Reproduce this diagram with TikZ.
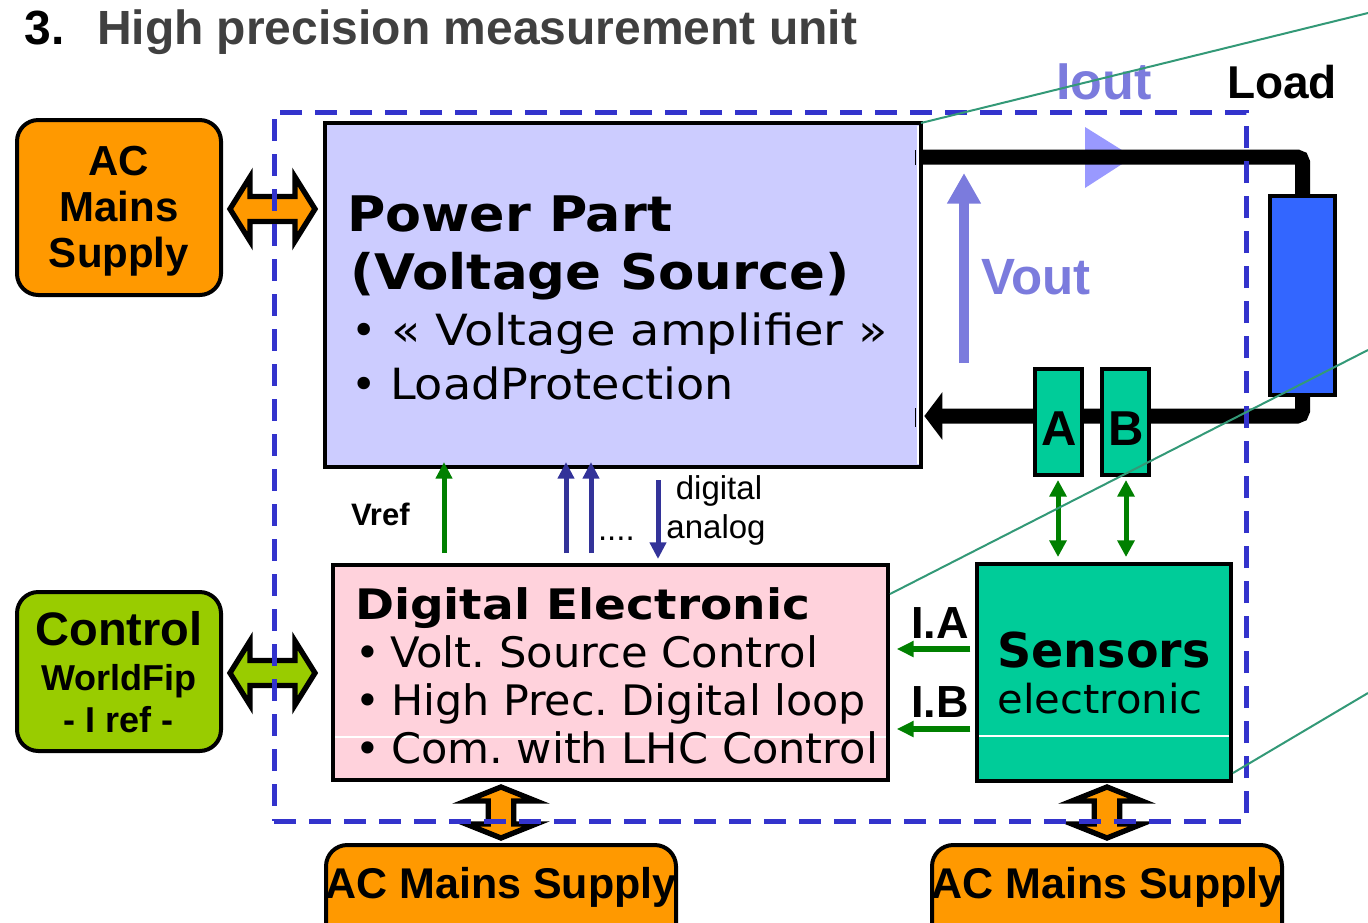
\documentclass[tikz,border=0pt]{standalone}
\usepackage{fontspec}
\usepackage{graphicx}
\setmainfont{Liberation Sans}
\newfontfamily\vfont{DejaVu Sans}
\usetikzlibrary{arrows.meta}
\frenchspacing
\definecolor{orng}{HTML}{FF9900}
\definecolor{lime}{HTML}{99CC00}
\definecolor{pwr}{HTML}{CCCCFF}
\definecolor{pinkde}{HTML}{FFD2DC}
\definecolor{teal}{HTML}{00CC99}
\definecolor{loadblue}{HTML}{3366FF}
\definecolor{dashblue}{HTML}{3333CC}
\definecolor{vblue}{HTML}{7B7BDD}
\definecolor{triblue}{HTML}{9999FF}
\definecolor{dgreen}{HTML}{008000}
\definecolor{sigblue}{HTML}{333399}
\definecolor{calloutgreen}{HTML}{339977}
\definecolor{titlegray}{HTML}{404040}
\newcommand{\fpx}[1]{\fontsize{\fpeval{0.75*#1}pt}{\fpeval{0.9*#1}pt}\selectfont}
\newcommand{\wl}[2]{\resizebox{\fpeval{0.75*#1}pt}{\height}{#2}}
\newcommand{\pbox}[6]{\node[#6, minimum width=\fpeval{0.75*(#4-#2)}pt, minimum height=\fpeval{0.75*(#5-#3)}pt] (#1) at ({(#2+#4)/2},{(#3+#5)/2}) {};}
\newcommand{\hdarrow}[4]{\draw[bigarr, fill=#4] (#1,#3) -- ({#1+20},{#3-32}) -- ({#1+20},{#3-12.5}) -- ({#2-20},{#3-12.5}) -- ({#2-20},{#3-32}) -- (#2,#3) -- ({#2-20},{#3+32}) -- ({#2-20},{#3+12.5}) -- ({#1+20},{#3+12.5}) -- ({#1+20},{#3+32}) -- cycle;}
\newcommand{\vdarrow}[4]{\draw[bigarr, fill=#4] (#1,#2) -- ({#1+35},{#2+14}) -- ({#1+12.8},{#2+14}) -- ({#1+12.8},{#3-14}) -- ({#1+35},{#3-14}) -- (#1,#3) -- ({#1-35},{#3-14}) -- ({#1-12.8},{#3-14}) -- ({#1-12.8},{#2+14}) -- ({#1-35},{#2+14}) -- cycle;}
\begin{document}
\begin{tikzpicture}[x=0.75pt,y=-0.75pt,
  boxsty/.style={draw=black, line width=3pt, inner sep=0pt, outer sep=0pt},
  rbox/.style={boxsty, rounded corners=16pt},
  lbl/.style={inner sep=0pt, outer sep=0pt, anchor=base west},
  lblc/.style={inner sep=0pt, outer sep=0pt, anchor=base},
  wire/.style={line width=11.25pt, draw=black, rounded corners=4pt},
  bigarr/.style={draw=black, line width=4pt, miter limit=10},
  sig/.style={line width=3.75pt, -{Triangle[length=12.5pt,width=12pt]}},
  sigab/.style={line width=3.75pt, {Triangle[length=12.5pt,width=12.5pt]}-{Triangle[length=12.5pt,width=12.5pt]}},
  sigi/.style={line width=4.5pt, draw=dgreen, -{Triangle[length=12.75pt,width=11.5pt]}},
  vout/.style={line width=7.5pt, draw=vblue, -{Triangle[length=23pt,width=24pt]}},
  callout/.style={draw=calloutgreen, line width=1.5pt},
  dashbox/.style={draw=dashblue, line width=3.75pt, dash pattern=on 16.5pt off 9.75pt, inner sep=0pt, outer sep=0pt}]
\useasboundingbox (0,0) rectangle (1368,922);
\clip (0,0) rectangle (1368,922);
% boxes
\pbox{acl}{17}{120}{221}{295}{rbox, fill=orng}
\pbox{ctl}{17}{592}{221}{751}{rbox, fill=lime}
\pbox{pp}{325}{123}{921}{467}{boxsty, fill=pwr}
\pbox{de}{333}{565}{888}{780}{boxsty, fill=pinkde}
\pbox{sens}{977}{564}{1231}{781}{boxsty, fill=teal}
\pbox{load}{1270}{196}{1335}{395}{boxsty, fill=loadblue}
\pbox{acb1}{326}{845}{676}{970}{rbox, fill=orng}
\pbox{acb2}{932}{845}{1282}{970}{rbox, fill=orng}
% rendering artefacts
\draw[white, line width=1.5pt] (918,126) -- (918,464);
\draw[black, line width=1pt] (915.5,150) -- (915.5,165) (915.5,408) -- (915.5,427);
\draw[white, line width=0.9pt] (335,737) -- (886,737);
\draw[white, line width=0.9pt] (979,736) -- (1229,736);
% Iout triangle
\fill[triblue] (1085,127) -- (1133,157) -- (1085,188) -- cycle;
% wires
\coordinate (wt) at (0,157);
\coordinate (wb) at (0,416);
\draw[wire] (pp.east |- wt) -| (load.north);
\draw[wire, -{Triangle[length=13.5pt,width=35pt]}] (load.south) |- ([xshift=2.5pt]pp.east |- wb);
% A and B
\pbox{ba}{1035}{369}{1082}{475}{boxsty, fill=teal}
\pbox{bb}{1102}{369}{1149}{475}{boxsty, fill=teal}
% big arrows
\hdarrow{230}{315}{209}{orng}
\hdarrow{230}{315}{673}{lime}
\vdarrow{501}{787}{838}{orng}
\vdarrow{1107}{787}{838}{orng}
% signal arrows
\coordinate (xvr) at (444,0);
\coordinate (xb1) at (566,0);
\coordinate (xb2) at (591,0);
\coordinate (xb3) at (658,0);
\draw[sig, draw=dgreen, shorten <=9pt, shorten >=-3.75pt] (de.north -| xvr) -- (pp.south -| xvr);
\draw[sig, draw=sigblue, shorten <=9pt, shorten >=-3.75pt] (de.north -| xb1) -- (pp.south -| xb1);
\draw[sig, draw=sigblue, shorten <=9pt, shorten >=-3.75pt] (de.north -| xb2) -- (pp.south -| xb2);
\draw[sig, draw=sigblue, shorten <=9.75pt, shorten >=4.5pt] (pp.south -| xb3) -- (de.north -| xb3);
\coordinate (yia) at (0,649);
\coordinate (yib) at (0,729);
\draw[sigi, shorten <=5pt, shorten >=6.5pt] (sens.west |- yia) -- (de.east |- yia);
\draw[sigi, shorten <=5pt, shorten >=6.5pt] (sens.west |- yib) -- (de.east |- yib);
\coordinate (xa) at (1058,0);
\coordinate (xbb) at (1126,0);
\draw[sigab, draw=dgreen, shorten <=3.75pt, shorten >=5.25pt] (ba.south -| xa) -- (sens.north -| xa);
\draw[sigab, draw=dgreen, shorten <=3.75pt, shorten >=5.25pt] (bb.south -| xbb) -- (sens.north -| xbb);
% Vout arrow
\coordinate (vo1) at (964,363);
\coordinate (vo2) at (964,173);
\draw[vout] (vo1) -- (vo2);
% dashed unit boundary
\pbox{unit}{274}{112}{1246}{821}{dashbox}
% texts
\node[lbl] (t3) at (25,44) {\fpx{48}\bfseries 3.};
\node[lbl, text=titlegray] (ttl) at (97,44) {\fpx{48}\bfseries High precision measurement unit};
\node[lblc] (acl1) at (119,175) {\fpx{42}\bfseries AC};
\node[lblc] (acl2) at (119,221) {\fpx{42}\bfseries Mains};
\node[lblc] (acl3) at (119,267) {\fpx{42}\bfseries Supply};
\node[lblc] (ct1) at (119,645) {\fpx{47}\bfseries Control};
\node[lblc] (ct2) at (119,690) {\fpx{36}\bfseries WorldFip};
\node[lblc] (ct3) at (119,732) {\fpx{36}\bfseries - I ref -};
\node[lbl] (pp1) at (347,231) {\vfont\bfseries\fpx{49}\wl{325}{Power Part}};
\node[lbl] (pp2) at (350,289) {\vfont\bfseries\fpx{49}\wl{500}{(Voltage Source)}};
\node[lbl] (pp3b) at (351,345) {\vfont\fpx{43}•};
\node[lbl] (pp3) at (391,345) {\vfont\fpx{43}\wl{497}{« Voltage amplifier »}};
\node[lbl] (pp4b) at (351,399) {\vfont\fpx{43}•};
\node[lbl] (pp4) at (390,399) {\vfont\fpx{43}\wl{344}{LoadProtection}};
\node[lbl] (de1) at (355,619) {\vfont\bfseries\fpx{42}\wl{455}{Digital Electronic}};
\node[lbl] (de2b) at (355,667) {\vfont\fpx{42}•};
\node[lbl] (de2) at (390,667) {\vfont\fpx{42}\wl{428}{Volt. Source Control}};
\node[lbl] (de3b) at (355,715) {\vfont\fpx{42}•};
\node[lbl] (de3) at (391,715) {\vfont\fpx{42}\wl{475}{High Prec. Digital loop}};
\node[lbl] (de4b) at (355,763) {\vfont\fpx{42}•};
\node[lbl] (de4) at (391,763) {\vfont\fpx{42}\wl{487}{Com. with LHC Control}};
\node[lblc] (s1) at (1104,667) {\vfont\bfseries\fpx{48}\wl{213}{Sensors}};
\node[lblc] (s2) at (1100,713) {\vfont\fpx{40}\wl{205}{electronic}};
\node[lbl] (lia) at (911,638) {\fpx{45}\bfseries I.A};
\node[lbl] (lib) at (911,717) {\fpx{45}\bfseries I.B};
\node[lblc] (la) at (1059,445) {\fpx{49}\bfseries A};
\node[lblc] (lb) at (1126,445) {\fpx{49}\bfseries B};
\node[lbl] (vref) at (351,525) {\fpx{31}\bfseries Vref};
\node[lbl] (dots) at (598,540) {\fpx{33}....};
\node[lblc] (dig) at (719,499) {\fpx{33}digital};
\node[lblc] (ana) at (716,538) {\fpx{33}analog};
\node[lbl, text=vblue] (iout) at (1056,99) {\fpx{52}\bfseries Iout};
\node[lbl, text=vblue] (voutl) at (981,294) {\fpx{51}\bfseries Vout};
\node[lbl] (loadl) at (1227,98) {\fpx{46}\bfseries Load};
\node[lblc] (acb1t) at (501,898) {\fpx{43}\bfseries AC Mains Supply};
\node[lblc] (acb2t) at (1107,898) {\fpx{43}\bfseries AC Mains Supply};
% callout lines
\coordinate (c1) at (1368,13);
\coordinate (c2a) at (890,594);
\coordinate (c2) at (1368,350);
\coordinate (c3a) at (1233,773);
\coordinate (c3) at (1368,693);
\draw[callout] (pp.north east) -- (c1);
\draw[callout] (c2a) -- (c2);
\draw[callout] (c3a) -- (c3);
\end{tikzpicture}
\end{document}
